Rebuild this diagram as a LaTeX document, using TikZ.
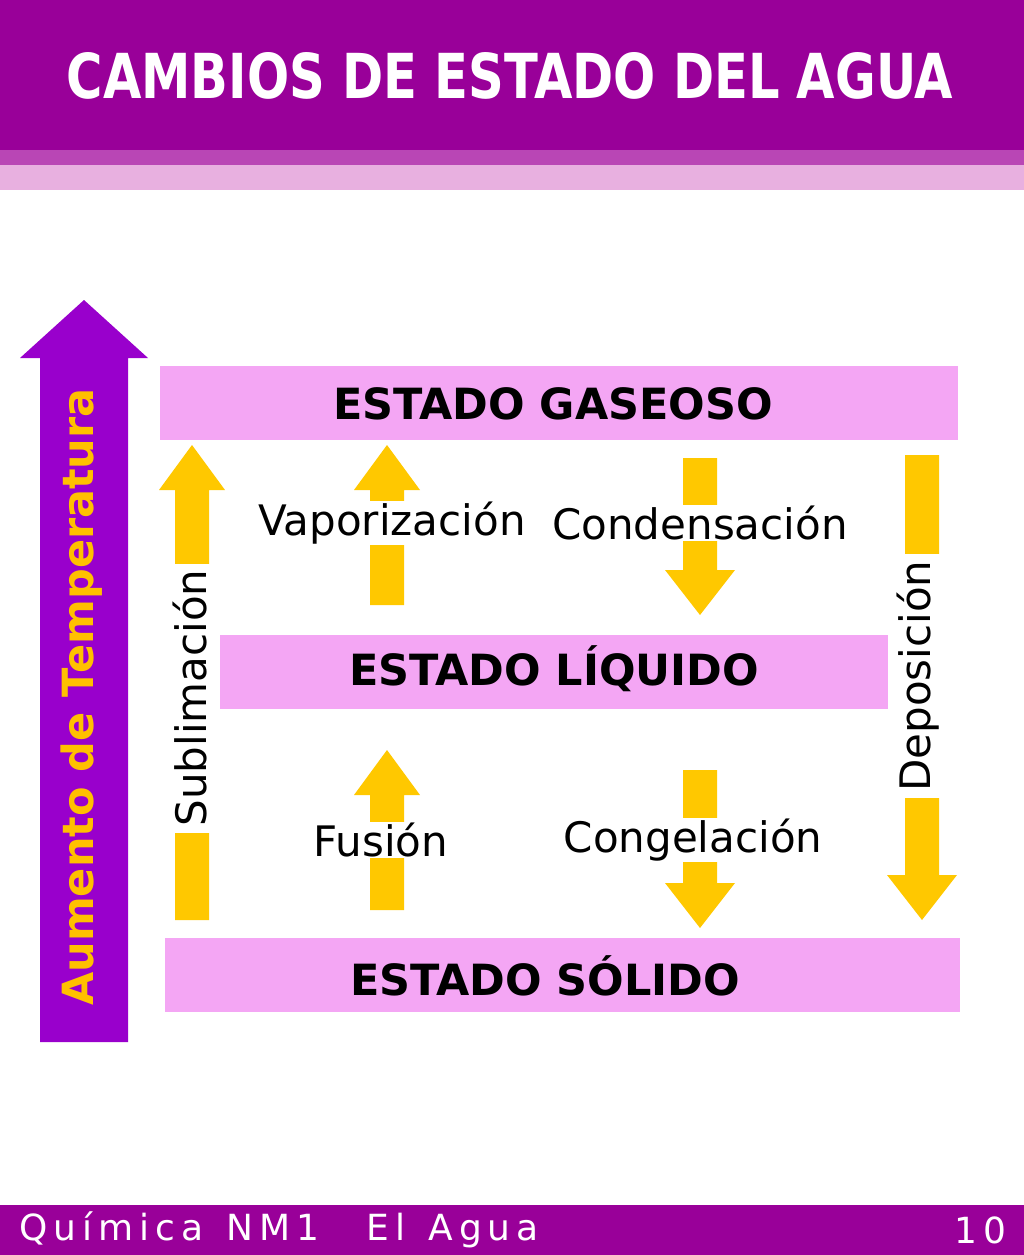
\documentclass[tikz,border=0pt]{standalone}
\usepackage{fontspec}
\setmainfont{DejaVu Sans}
\definecolor{hdr}{HTML}{990099}
\definecolor{strip}{HTML}{E8B0E0}
\definecolor{vio}{HTML}{9900CC}
\definecolor{boxc}{HTML}{F4A6F4}
\definecolor{yel}{HTML}{FFC800}
\definecolor{lab}{HTML}{FFC000}
\begin{document}
\begin{tikzpicture}[x=1pt,y=-1pt,
  statebox/.style={fill=boxc,draw=none},
  statetxt/.style={font=\bfseries\fontsize{43}{45}\selectfont,text=black},
  lbl/.style={font=\fontsize{42}{44}\selectfont,fill=white,inner sep=1pt},
  yarr/.style={fill=yel,draw=none}]
\useasboundingbox (0,0) rectangle (1024,1255);
\fill[white] (0,0) rectangle (1024,1255);
% header
\fill[hdr] (0,0) rectangle (1024,150);
\fill[strip] (0,150) rectangle (1024,190);
\fill[hdr!60!strip] (0,150) rectangle (1024,165);
\node[font=\bfseries\fontsize{62}{64}\selectfont,text=white,xscale=0.8] (title) at (510,76) {CAMBIOS DE ESTADO DEL AGUA};
% footer
\fill[hdr] (0,1205) rectangle (1024,1255);
\node[anchor=west,text=white,font=\fontsize{36}{38}\selectfont] (foot) at (16,1230) {Q\,u\,í\,m\,i\,c\,a\ \ N\,M\,1\quad\ E\,l\ \ A\,g\,u\,a};
\node[anchor=east,text=white,font=\fontsize{36}{38}\selectfont] (pg) at (1010,1230) {1\,0};
% big arrow
\fill[vio] (40,1042) -- (40,358) -- (20,358) -- (84,300) -- (148,358) -- (128,358) -- (128,1042) -- cycle;
\node[rotate=90,text=lab,font=\bfseries\fontsize{43}{45}\selectfont] (temp) at (82,697) {Aumento de Temperatura};
% boxes
\fill[statebox] (160,366) rectangle (958,440);
\node[statetxt] (gas) at (553,404) {ESTADO GASEOSO};
\fill[statebox] (220,635) rectangle (888,709);
\node[statetxt] (liq) at (554,669) {ESTADO LÍQUIDO};
\fill[statebox] (165,938) rectangle (960,1012);
\node[statetxt] (sol) at (545,976) {ESTADO SÓLIDO};
\newcommand{\uparr}[3]{\fill[yarr] (#1-17,#3) -- (#1-17,#2+45) -- (#1-33,#2+45) -- (#1,#2) -- (#1+33,#2+45) -- (#1+17,#2+45) -- (#1+17,#3) -- cycle;}
\newcommand{\downarr}[3]{\fill[yarr] (#1-17,#3) -- (#1-17,#2-45) -- (#1-35,#2-45) -- (#1,#2) -- (#1+35,#2-45) -- (#1+17,#2-45) -- (#1+17,#3) -- cycle;}
\uparr{192}{445}{920}
\uparr{387}{445}{605}
\downarr{700}{615}{458}
\uparr{387}{750}{910}
\downarr{700}{928}{770}
\downarr{922}{920}{455}
% labels
\node[lbl] (vap) at (392,523) {Vaporización};
\node[lbl] (con) at (700,523) {Condensación};
\node[lbl] (fus) at (381,840) {Fusión};
\node[lbl] (cong) at (693,840) {Congelación};
\node[lbl,rotate=90,inner sep=6pt,minimum height=44pt] (sub) at (190,698) {Sublimación};
\node[lbl,rotate=90,inner sep=6pt,minimum height=44pt] (dep) at (918,676) {Deposición};
\end{tikzpicture}
\end{document}
